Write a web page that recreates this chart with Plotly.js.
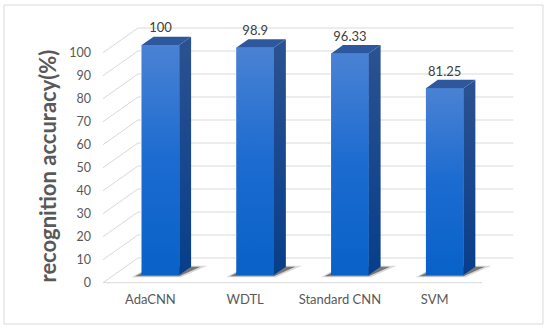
<!DOCTYPE html>
<html>
<head>
<meta charset="utf-8">
<script src="https://cdn.plot.ly/plotly-3.0.1.min.js"></script>
<style>html,body{margin:0;padding:0;background:#fff;}#chart{width:550px;height:329px;}</style>
</head>
<body>
<div id="chart"></div>
<script>
// ---- data ----
const categories = ['AdaCNN', 'WDTL', 'Standard CNN', 'SVM'];
const accuracy = [100, 98.9, 96.33, 81.25];
const yTickVals = [0, 10, 20, 30, 40, 50, 60, 70, 80, 90, 100];
const yTickText = ['0', '10', '20', '30', '40', '50', '60', '70', '80', '90', '100'];

// ---- 3D projection parameters (category units / value units) ----
const DX = 0.369, DY = 10.74;          // full floor depth offset
const F0 = 0.31, FD = 0.34;            // bar front depth, bar depth
const BW = 0.396;                      // bar width
const XOFF = F0 * DX - 0.008;          // front face centre shift
const BASE = F0 * DY;                  // front face base value
const ddx = FD * DX, ddy = FD * DY;
const WALL_RIGHT = 3.83;

const traces = [];

// grid: back wall + left wall
const gx = [], gy = [];
yTickVals.forEach(v => {
  gx.push(-0.5, -0.5 + DX, WALL_RIGHT, null);
  gy.push(v, v + DY, v + DY, null);
});
// front floor edge
gx.push(-0.5, 3.5, null); gy.push(0, 0, null);
traces.push({type:'scatter', mode:'lines', x:gx, y:gy, line:{color:'#d9d9d9', width:1}, hoverinfo:'skip', showlegend:false});

// shadows
categories.forEach((c, i) => {
  const xl = i + XOFF - BW/2, xr = i + XOFF + BW/2;
  traces.push({type:'scatter', mode:'lines', fill:'toself',
    x:[xl-0.11, xr+0.02, xr+ddx+0.17, xl+ddx-0.02, xl-0.11],
    y:[BASE-1.0, BASE-1.0, BASE+ddy+0.4, BASE+ddy+0.4, BASE-1.0],
    line:{width:0, color:'rgba(0,0,0,0)'}, fillcolor:'rgba(0,0,0,0.15)', hoverinfo:'skip', showlegend:false});
  traces.push({type:'scatter', mode:'lines', fill:'toself',
    x:[xl-0.07, xr, xr+ddx+0.10, xl+ddx, xl-0.07],
    y:[BASE-0.5, BASE-0.5, BASE+ddy, BASE+ddy, BASE-0.5],
    line:{width:0, color:'rgba(0,0,0,0)'}, fillcolor:'rgba(0,0,0,0.45)', hoverinfo:'skip', showlegend:false});
});

// front faces (bar trace)
traces.push({type:'bar', x:categories.map((c,i)=>i+XOFF), y:accuracy, base:BASE, width:BW,
  marker:{color:'#2a74d2', line:{width:0}}, hoverinfo:'skip', showlegend:false});

// gradient overlay, side and top faces
categories.forEach((c, i) => {
  const xl = i + XOFF - BW/2, xr = i + XOFF + BW/2;
  const top = BASE + accuracy[i];
  traces.push({type:'scatter', mode:'lines', fill:'toself',
    x:[xl, xr, xr, xl, xl], y:[BASE, BASE, top, top, BASE],
    line:{width:0, color:'rgba(0,0,0,0)'},
    fillgradient:{type:'vertical', start:BASE, stop:top, colorscale:[[0,'#0862c8'],[0.5,'#1c6bd0'],[1,'#4a82d4']]},
    hoverinfo:'skip', showlegend:false});
  traces.push({type:'scatter', mode:'lines', fill:'toself',
    x:[xr, xr+ddx, xr+ddx, xr, xr], y:[BASE, BASE+ddy, top+ddy, top, BASE],
    line:{width:0, color:'rgba(0,0,0,0)'},
    fillgradient:{type:'vertical', start:BASE, stop:top+ddy, colorscale:[[0,'#073e8a'],[1,'#2c5290']]},
    hoverinfo:'skip', showlegend:false});
  traces.push({type:'scatter', mode:'lines', fill:'toself',
    x:[xl, xr, xr+ddx, xl+ddx, xl], y:[top, top, top+ddy, top+ddy, top],
    line:{width:0, color:'rgba(0,0,0,0)'}, fillcolor:'#2e589e', hoverinfo:'skip', showlegend:false});
});

// data labels
traces.push({type:'scatter', mode:'text', x:categories.map((c,i)=>i+XOFF), y:accuracy.map(v=>v+BASE+6.9),
  text:accuracy.map(v=>String(v)), textposition:'middle center',
  textfont:{family:'Lato, "Open Sans", sans-serif', size:13, color:'#404040'}, hoverinfo:'skip', showlegend:false, cliponaxis:false});

const layout = {
  width:550, height:329,
  margin:{l:92, r:30, t:5, b:39, pad:0},
  paper_bgcolor:'#ffffff', plot_bgcolor:'rgba(0,0,0,0)',
  showlegend:false, barmode:'overlay',
  xaxis:{range:[-0.6161, 3.901], tickmode:'array', tickvals:[0,1,2,3], ticktext:categories,
    showgrid:false, zeroline:false, showline:false, ticks:'', fixedrange:true,
    tickfont:{family:'Lato, "Open Sans", sans-serif', size:13, color:'#595959'}},
  yaxis:{range:[-3.174, 120.74], tickmode:'array', tickvals:yTickVals, ticktext:yTickText,
    showgrid:false, zeroline:false, showline:false, ticks:'', fixedrange:true,
    tickfont:{family:'Lato, "Open Sans", sans-serif', size:12.5, color:'#595959'}},
  annotations:[{text:'recognition accuracy(%)', textangle:-90, xref:'paper', yref:'paper',
    x:-0.1028, y:0.4333, xanchor:'center', yanchor:'middle', showarrow:false,
    font:{family:'Lato, "Open Sans", sans-serif', size:22, weight:'bold', color:'#595959'}}],
  shapes:[{type:'rect', xref:'paper', yref:'paper', x0:-0.2056, x1:1.0537, y0:-0.1193, y1:1.0,
    line:{color:'#d9d9d9', width:1}, fillcolor:'rgba(0,0,0,0)', layer:'below'}]
};

Plotly.newPlot('chart', traces, layout, {displayModeBar:false, staticPlot:true});
</script>
</body>
</html>
